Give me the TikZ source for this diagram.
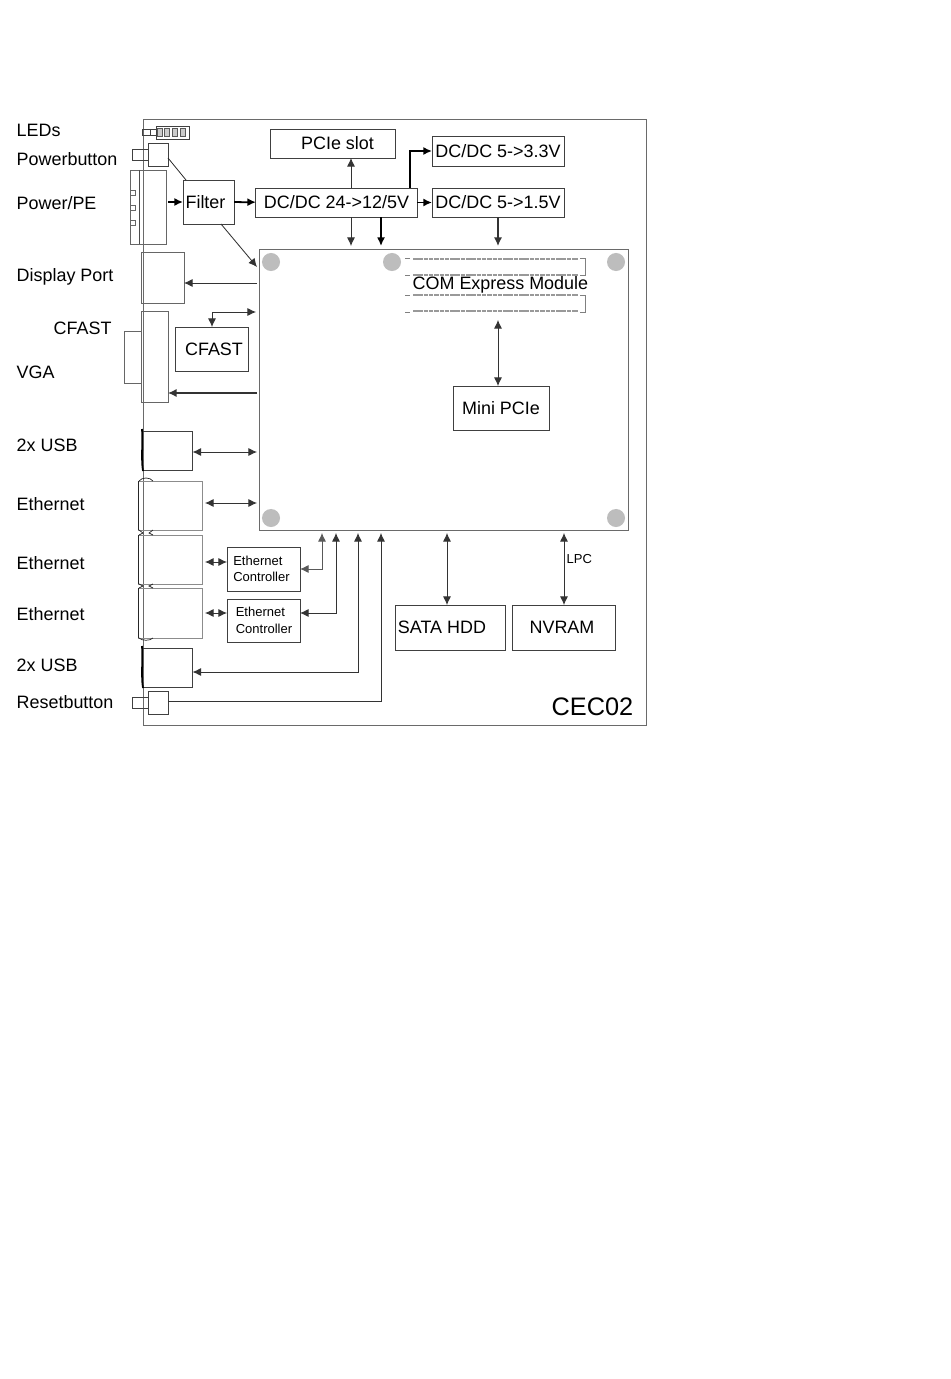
\documentclass[tikz,border=0pt]{standalone}
\usepackage{fontspec}
\setmainfont{Liberation Sans}
\usetikzlibrary{arrows.meta}
\definecolor{edgegray}{HTML}{6A6A6A}
\definecolor{holegray}{HTML}{BDBDBD}
\tikzset{
	wh/.style 2 args={minimum width=#1*0.1mm, minimum height=#2*0.1mm},
	blk/.style={draw=black!75, line width=0.26pt, inner sep=0pt, outer sep=0pt, font=\fontsize{5.1pt}{6pt}\selectfont},
	smallblk/.style={draw=black!75, line width=0.26pt, inner sep=0pt, outer sep=0pt, align=left, font=\fontsize{3.7pt}{4.7pt}\selectfont},
	port/.style={draw=black!75, line width=0.18pt, inner sep=0pt, outer sep=0pt},
	ethport/.style={draw=black!45, line width=0.26pt, inner sep=0pt, outer sep=0pt},
	lbl/.style={anchor=west, inner sep=0pt, font=\fontsize{5.1pt}{6pt}\selectfont},
	hole/.style={circle, fill=holegray, minimum size=1.8mm, inner sep=0pt},
	sig/.style={line width=0.24pt, draw=black!80, -{Latex[length=0.85mm,width=0.8mm]}},
	bisig/.style={line width=0.24pt, draw=black!80, {Latex[length=0.85mm,width=0.8mm]}-{Latex[length=0.85mm,width=0.8mm]}},
	pwr/.style={line width=0.5pt, draw=black, -{Latex[length=0.85mm,width=0.8mm]}}
}
\begin{document}
\begin{tikzpicture}[x=0.01cm, y=-0.01cm]
	\useasboundingbox[fill=white] (0,0) rectangle (950,1379);
	% board and module
	\node[draw=edgegray, line width=0.26pt, wh={502}{605}, inner sep=0pt](board) at (395,422.5){};
	\node[draw=edgegray, line width=0.28pt, wh={368}{280}, inner sep=0pt](module) at (444,390){};
	\node[hole](h1) at (271,262){};
	\node[hole](h2) at (392,262){};
	\node[hole](h3) at (616,262){};
	\node[hole](h4) at (271,518){};
	\node[hole](h5) at (616,518){};
	% com express connectors
	\foreach \y in {259,275,295,311}
		\draw[black!40, line width=0.5pt, dash pattern=on 0.45mm off 0.08mm] (413,\y) -- (578,\y);
	\foreach \y/\z in {258/275,295/312}{
		\draw[gray, line width=0.18pt] (405,\y) -- (410,\y);
		\draw[gray, line width=0.18pt] (405,\z) -- (410,\z);
		\draw[gray, line width=0.18pt] (580,\y) -- (585,\y) -- (585,\z) -- (580,\z);
	}
	% blocks
	\node[blk, wh={125}{29}](pcie) at (332.5,143.5){\hspace*{1mm}PCIe slot};
	\node[blk, wh={132}{30}](dcb) at (498,151){DC/DC 5->3.3V};
	\node[blk, wh={132}{29}](dcc) at (498,202.5){DC/DC 5->1.5V};
	\node[blk, wh={161}{29}](dca) at (336.5,202.5){DC/DC 24->12/5V};
	\node[blk, wh={51}{44}](filter) at (208.5,202){Filter\hspace*{0.6mm}};
	\node[blk, wh={73}{44}](cfastbox) at (211.5,349){\hspace*{0.5mm}CFAST};
	\node[blk, wh={96}{44}](minipcie) at (501,408){Mini PCIe};
	\node[blk, wh={110}{45}](sata) at (450,627.5){SATA HDD\hspace*{1.6mm}};
	\node[blk, wh={103}{45}](nvram) at (563.5,627.5){NVRAM\hspace*{0.3mm}};
	\node[smallblk, wh={73}{44}](ethca) at (263.5,569){\hspace*{0.1mm}Ethernet\\\hspace*{0.1mm}Controller\hspace*{0.5mm}};
	\node[smallblk, wh={73}{43}](ethcb) at (263.5,620.5){\hspace*{0.1mm}Ethernet\\\hspace*{0.1mm}Controller};
	% ports on the left
	\node[port, line width=0.26pt, wh={33}{13}](led) at (172.5,132.5){};
	\foreach \x in {160,167,175,183}
		\node[draw=black!65, fill=black!20, line width=0.26pt, wh={5}{8}, inner sep=0pt](led\x) at (\x,132.5){};
	\node[port, wh={14}{6}](ledstub) at (149,132){};
	\draw[port] (150,129) -- (150,135);
	\node[port, wh={20}{23}](pwrbtn) at (158,154.5){};
	\node[port, wh={16}{11}](pwrstub) at (140,154.5){};
	\node[port, draw=black!60, wh={36}{74}](power) at (148,207){};
	\draw[black!70, line width=0.18pt] (139,170) -- (139,244);
	\foreach \y in {192,207,222}
		\draw[black!60, line width=0.18pt] (130,\y-2) -- (135,\y-2) -- (135,\y+3) -- (130,\y+3);
	\node[port, draw=black!60, wh={43}{51}](dport) at (162.5,277.5){};
	\node[port, draw=black!60, wh={27}{91}](vga) at (154.5,356.5){};
	\node[port, draw=black!60, wh={17}{52}](vgastub) at (132.5,357){};
	\node[port, wh={50}{39}](usba) at (167.5,450.5){};
	\draw[black, line width=0.5pt] (142,429) .. controls (143,440) and (141,460) .. (143,471);
	\node[ethport, wh={64}{49}](etha) at (170,505.5){};
	\node[ethport, wh={64}{49}](ethb) at (170,559.5){};
	\node[ethport, wh={64}{50}](ethd) at (170,613){};
	\foreach \y/\z in {481/530,535/584,588/638}
		\draw[black!85, line width=0.26pt] (138,\y) -- (138,\z);
	\draw[black!85, line width=0.2pt] (139,481) .. controls (142,477) and (150,477) .. (153,481);
	\draw[black!85, line width=0.2pt] (139,530) -- (143,533) -- (139,535) (153,530) -- (149,533) -- (153,535);
	\draw[black!85, line width=0.2pt] (139,584) -- (143,586) -- (139,588) (153,584) -- (149,586) -- (153,588);
	\draw[black!85, line width=0.2pt] (139,638) .. controls (142,641) and (150,641) .. (153,638);
	\node[port, wh={50}{39}](usbb) at (167.5,667.5){};
	\draw[black, line width=0.5pt] (142,646) .. controls (143,657) and (141,677) .. (143,688);
	\node[port, wh={20}{23}](rstbtn) at (158,702.5){};
	\node[port, wh={16}{11}](rststub) at (140,702.5){};
	% labels
	\node[lbl](tleds) at (16,130){LEDs};
	\node[lbl](tpwrbtn) at (16,159.5){Powerbutton};
	\node[lbl](tpower) at (16,203.5){Power/PE};
	\node[lbl](tdport) at (16,277){Display Port};
	\node[lbl](tcfast) at (53,328){CFAST};
	\node[lbl](tvga) at (16,372){VGA};
	\node[lbl](tusba) at (16,445.5){2x USB};
	\node[lbl](tetha) at (16,504){Ethernet};
	\node[lbl](tethb) at (16,563){Ethernet};
	\node[lbl](tethd) at (16,614){Ethernet};
	\node[lbl](tusbb) at (16,665.5){2x USB};
	\node[lbl](trst) at (16,702){Resetbutton};
	\node[lbl](tcom) at (412,284.5){COM Express Module};
	\node[lbl, font=\fontsize{7.2pt}{8pt}\selectfont](tname) at (551,707){CEC02};
	\node[lbl, font=\fontsize{3.7pt}{4.5pt}\selectfont](tlpc) at (566,559.5){LPC};
	% free ends
	\coordinate(ca) at (351,246);
	\coordinate(cb) at (381,246);
	\coordinate(cc) at (498,246);
	\coordinate(cd) at (257,267);
	\coordinate(ce) at (257,283);
	\coordinate(cf) at (256,312);
	\coordinate(cg) at (257,393);
	\coordinate(ch) at (257,452);
	\coordinate(ci) at (257,503);
	\coordinate(cj) at (205,503);
	\coordinate(ck) at (322,533);
	\coordinate(cl) at (336,533);
	\coordinate(cm) at (358,533);
	\coordinate(cn) at (381,533);
	\coordinate(co) at (447,533);
	\coordinate(cp) at (564,533);
	\coordinate(cq) at (498,320);
	\coordinate(cr) at (205,562);
	\coordinate(cs) at (205,613);
	\coordinate(ct) at (410,188);
	\coordinate(cu) at (168,202);
	\coordinate(cv) at (221,224);
	\coordinate(cw) at (186,180);
	\coordinate(cx) at (168,158);
	\coordinate(cy) at (212,312);
	% connections
	\draw[pwr] (cu) -- (filter);
	\draw[pwr] (filter) -- (dca);
	\draw[pwr] (dca) -- (dcc);
	\draw[pwr] (ct) -- (ct |- dcb) -- (dcb.west);
	\draw[sig] (dca.north -| ca) -- (pcie.south -| ca);
	\draw[sig] (dca.south -| ca) -- (ca);
	\draw[pwr] (dca.south -| cb) -- (cb);
	\draw[sig, line width=0.4pt] (dcc.south -| cc) -- (cc);
	\draw[black!85, line width=0.22pt] (cx) -- (cw);
	\draw[sig] (cv) -- (cd);
	\draw[sig] (ce) -- (dport.east |- ce);
	\draw[bisig] (cfastbox.north -| cy) -- (cy) -- (cf);
	\draw[sig, line width=0.34pt] (cg) -- (vga.east |- cg);
	\draw[bisig] (usba.east |- ch) -- (ch);
	\draw[bisig] (cj) -- (ci);
	\draw[bisig] (cr) -- (ethca.west |- cr);
	\draw[bisig] (cs) -- (ethcb.west |- cs);
	\draw[bisig, draw=black!65] (ethca.east) -- (ethca.east -| ck) -- (ck);
	\draw[bisig] (ethcb.east |- cs) -- (cl |- cs) -- (cl);
	\draw[bisig] (usbb.east |- 0,672) -- (cm |- 0,672) -- (cm);
	\draw[sig] (rstbtn.east |- 0,701) -- (cn |- 0,701) -- (cn);
	\draw[bisig] (co) -- (sata.north -| co);
	\draw[bisig] (cp) -- (nvram.north -| cp);
	\draw[bisig] (cq) -- (minipcie.north -| cq);
\end{tikzpicture}
\end{document}
